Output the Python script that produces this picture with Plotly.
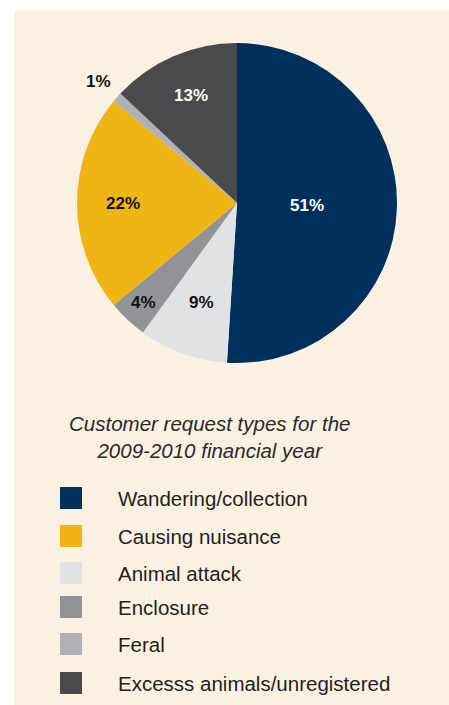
import math
import plotly.graph_objects as go

# ---- data ----
categories = ["Wandering/collection", "Causing nuisance", "Animal attack",
              "Enclosure", "Feral", "Excesss animals/unregistered"]
values = [51, 22, 9, 4, 1, 13]
colors = ["#00305B", "#EFB515", "#E1E2E3", "#929396", "#B0B1B4", "#4A4A4C"]
label_colors = ["#FFFFFF", "#111111", "#111111", "#111111", "#111111", "#FFFFFF"]
# clockwise order of slices starting at 12 o'clock
pie_order = ["Wandering/collection", "Animal attack", "Enclosure",
             "Causing nuisance", "Feral", "Excesss animals/unregistered"]
title_text = "Customer request types for the<br>2009-2010 financial year"

# ---- layout / style ----
W, H = 449, 705
CREAM = "#FBF1E2"
CX, CY, R = 237, 203, 160          # pie centre and radius in pixels
# radial position of each slice label (fraction of radius), in pie order
label_radius = [0.44, 0.66, 0.85, 0.71, 1.15, 0.73]
legend_rows_px = [498, 536, 573, 607, 644, 683]

idx = [categories.index(c) for c in pie_order]
pie_vals = [values[i] for i in idx]
pie_cols = [colors[i] for i in idx]
pie_tcols = [label_colors[i] for i in idx]

fig = go.Figure()
fig.add_trace(go.Pie(
    labels=pie_order,
    values=pie_vals,
    sort=False,
    direction="clockwise",
    rotation=0,
    marker=dict(colors=pie_cols, line=dict(width=0)),
    textinfo="none",
    hoverinfo="label+percent",
    showlegend=False,
    domain=dict(x=[(CX - R) / W, (CX + R) / W], y=[1 - (CY + R) / H, 1 - (CY - R) / H]),
))

shapes = [dict(type="rect", xref="paper", yref="paper",
               x0=14 / W, x1=1, y0=0, y1=1 - 10 / H,
               fillcolor=CREAM, line=dict(width=0), layer="below")]
annotations = [dict(text=title_text, xref="paper", yref="paper",
                    x=209 / W, y=1 - 437 / H, xanchor="center", yanchor="middle",
                    showarrow=False, align="center",
                    font=dict(family="Liberation Sans", size=20.5, color="#2A2A2A",
                              style="italic"))]

# slice labels placed at the mid-angle of each slice
total = sum(pie_vals)
cum = 0
for v, tc, rf in zip(pie_vals, pie_tcols, label_radius):
    mid = (cum + v / 2) / total * 2 * math.pi
    cum += v
    px = CX + math.sin(mid) * R * rf
    py = CY - math.cos(mid) * R * rf
    annotations.append(dict(text=f"{v}%", xref="paper", yref="paper",
                            x=px / W, y=1 - py / H, xanchor="center", yanchor="middle",
                            showarrow=False,
                            font=dict(family="Liberation Sans", size=17, color=tc,
                                      weight="bold")))

sq = 22
for name, col, yc in zip(categories, colors, legend_rows_px):
    shapes.append(dict(type="rect", xref="paper", yref="paper",
                       x0=60 / W, x1=(60 + sq) / W,
                       y0=1 - (yc + sq / 2) / H, y1=1 - (yc - sq / 2) / H,
                       fillcolor=col, line=dict(width=0)))
    annotations.append(dict(text=name, xref="paper", yref="paper",
                            x=116 / W, y=1 - yc / H, xanchor="left", yanchor="middle",
                            showarrow=False,
                            font=dict(family="Liberation Sans", size=20.5, color="#231F20")))

fig.update_layout(
    width=W, height=H,
    margin=dict(l=0, r=0, t=0, b=0),
    paper_bgcolor="#FFFFFF",
    plot_bgcolor=CREAM,
    shapes=shapes,
    annotations=annotations,
)

fig.write_html("out.html")
